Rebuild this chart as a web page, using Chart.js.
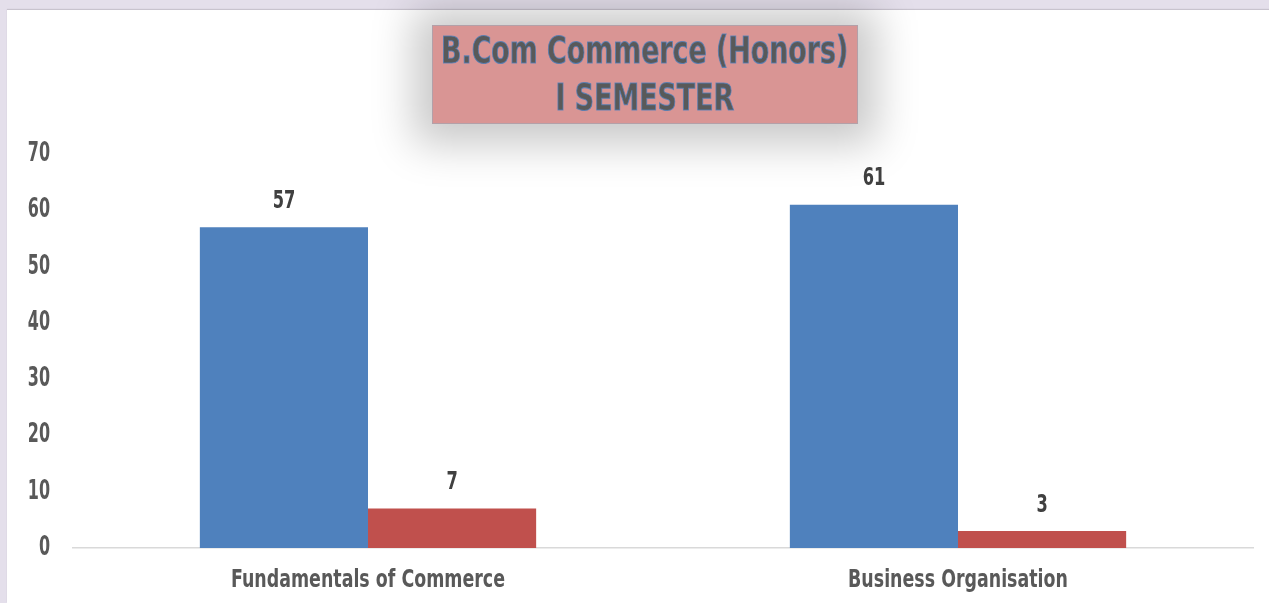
<!DOCTYPE html>
<html>
<head>
<meta charset="utf-8">
<script src="https://cdn.jsdelivr.net/npm/chart.js@4/dist/chart.umd.min.js"></script>
<style>
  html, body { margin: 0; padding: 0; width: 1269px; height: 603px; overflow: hidden; background: #e4dfeb; }
  #wrap { position: absolute; left: 7px; top: 10px; width: 1262px; height: 593px; background: #ffffff; box-shadow: 0 -1px 1px rgba(0,0,0,0.12); }
  #c { position: absolute; left: 0; top: 0; }
  #title {
    position: absolute; left: 425px; top: 15px; width: 426px; height: 99px;
    background: #d99594; border: 1px solid #b3a0a8; box-sizing: border-box;
    box-shadow: 0 2px 40px 18px rgba(0,0,0,0.22);
    color: #595959;
    font-family: "DejaVu Sans Condensed", "Liberation Sans Narrow", sans-serif;
    font-weight: bold; font-size: 31px;
  }
  #title .ln {
    position: absolute; left: 0; width: 100%; height: 47px; line-height: 47px;
    text-align: center; white-space: nowrap;
  }
  #title .ln span {
    display: inline-block;
    -webkit-text-stroke: 0.9px rgba(79,129,189,0.8);
  }
</style>
</head>
<body>
<div id="wrap">
  <canvas id="c" width="1262" height="593"></canvas>
  <div id="title">
    <div class="ln" style="top:1px"><span id="t1">B.Com Commerce (Honors)</span></div>
    <div class="ln" style="top:48px"><span id="t2">I SEMESTER</span></div>
  </div>
</div>
<script>
const categories = ["Fundamentals of Commerce", "Business Organisation"];
const seriesA = [57, 61];
const seriesB = [7, 3];
const yTicks = [0, 10, 20, 30, 40, 50, 60, 70];

// squeeze title horizontally to look like a condensed display face
(function () {
  const t1 = document.getElementById('t1');
  const t2 = document.getElementById('t2');
  const sx = 407 / t1.getBoundingClientRect().width;
  [t1, t2].forEach(t => { t.style.transform = 'scale(' + sx.toFixed(3) + ',1.2)'; });
})();

const FONT = '"DejaVu Sans Condensed", "Liberation Sans Narrow", sans-serif';

function squeezedText(ctx, text, x, y, sx, align) {
  ctx.save();
  ctx.translate(x, y);
  ctx.scale(sx, 1.12);
  ctx.textAlign = align;
  ctx.textBaseline = 'middle';
  ctx.fillText(text, 0, 0);
  ctx.restore();
}

const customText = {
  id: 'customText',
  afterDraw(chart) {
    const ctx = chart.ctx;
    const xs = chart.scales.x, ys = chart.scales.y;
    ctx.save();
    ctx.fillStyle = '#595959';
    // y tick labels
    ctx.font = 'bold 24px ' + FONT;
    yTicks.forEach(v => {
      squeezedText(ctx, String(v), ys.right - 23, ys.getPixelForValue(v), 0.74, 'right');
    });
    // x category labels
    ctx.font = 'bold 22px ' + FONT;
    categories.forEach((c, i) => {
      squeezedText(ctx, c, xs.getPixelForValue(i), xs.top + 33, 0.88, 'center');
    });
    // value labels
    ctx.fillStyle = '#404040';
    chart.data.datasets.forEach((ds, i) => {
      const meta = chart.getDatasetMeta(i);
      meta.data.forEach((el, j) => {
        squeezedText(ctx, String(ds.data[j]), el.x, el.y - 26, 0.82, 'center');
      });
    });
    ctx.restore();
  }
};

new Chart(document.getElementById('c'), {
  type: 'bar',
  data: {
    labels: categories,
    datasets: [
      { label: 'Series 1', data: seriesA, backgroundColor: '#4f81bd', categoryPercentage: 0.57, barPercentage: 1 },
      { label: 'Series 2', data: seriesB, backgroundColor: '#c0504d', categoryPercentage: 0.57, barPercentage: 1 }
    ]
  },
  options: {
    responsive: false,
    animation: false,
    layout: { padding: { left: 0, right: 16, top: 144, bottom: 0 } },
    plugins: { legend: { display: false }, title: { display: false }, tooltip: { enabled: false } },
    scales: {
      x: {
        grid: { display: false, drawTicks: false },
        border: { display: true, color: '#d9d9d9', width: 1.5 },
        ticks: { display: false },
        afterFit: s => { s.height = 55; }
      },
      y: {
        min: 0, max: 70,
        afterBuildTicks: s => { s.ticks = yTicks.map(v => ({ value: v })); },
        grid: { display: false, drawTicks: false },
        border: { display: false },
        ticks: { display: false },
        afterFit: s => { s.width = 66; }
      }
    }
  },
  plugins: [customText]
});
</script>
</body>
</html>
